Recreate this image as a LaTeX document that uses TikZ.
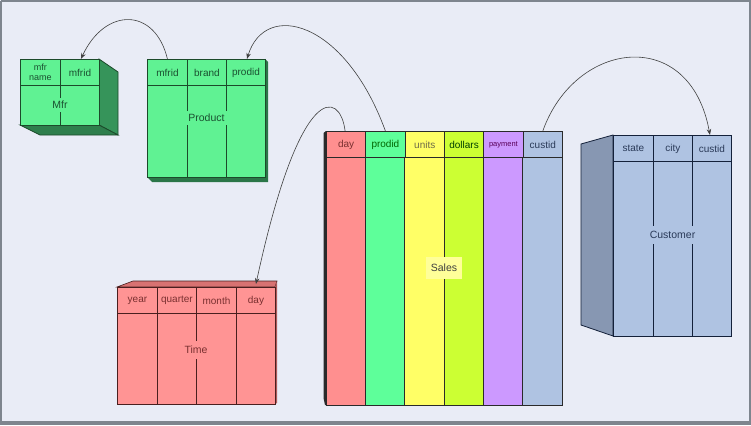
\documentclass[tikz,border=0pt]{standalone}
\usepackage{fontspec}
\setmainfont{Liberation Sans}
\usetikzlibrary{arrows.meta}
\definecolor{bg}{HTML}{E9ECF6}
\definecolor{framec}{HTML}{7E858E}
\definecolor{gfront}{HTML}{60F293}
\definecolor{gside}{HTML}{36945A}
\definecolor{gline}{HTML}{1C4A2A}
\definecolor{gtext}{HTML}{1A5030}
\definecolor{rfront}{HTML}{FF9494}
\definecolor{rside}{HTML}{D87272}
\definecolor{rline}{HTML}{4A1F1F}
\definecolor{rtext}{HTML}{7A3030}
\definecolor{bfront}{HTML}{AFC3E2}
\definecolor{bside}{HTML}{8797B2}
\definecolor{bline}{HTML}{14213A}
\definecolor{btext}{HTML}{2A3A58}
\definecolor{sday}{HTML}{FF8F8F}
\definecolor{sprod}{HTML}{5EFF9A}
\definecolor{sunits}{HTML}{FFFF66}
\definecolor{sdoll}{HTML}{CCFF33}
\definecolor{spay}{HTML}{CC99FF}
\definecolor{scust}{HTML}{AFC3E2}
\definecolor{slbl}{HTML}{FFFF99}
\definecolor{sline}{HTML}{2A2A2A}
\definecolor{arrc}{HTML}{404040}
\begin{document}
\begin{tikzpicture}[x=1pt,y=-1pt,
  cell/.style={draw, line width=0.9pt, minimum height=26pt, inner sep=0pt, anchor=north west, font=\fontsize{10}{11}\selectfont},
  lbl/.style={inner sep=3pt, font=\fontsize{10.5}{12}\selectfont},
  link/.style={draw=arrc, line width=0.6pt, -{Stealth[length=6pt,width=4.5pt]}}]
\useasboundingbox (0,0) rectangle (751,425);
\fill[bg] (0,0) rectangle (751,425);
\draw[framec, line width=2pt] (1,1) -- (750,1) -- (750,422) (1,1) -- (1,422);
\fill[framec] (0,421) rectangle (751,425);

% ---------- Mfr ----------
\fill[gside, draw=gline, line width=0.8pt] (99,59) -- (118,72) -- (118,135) -- (99,125) -- cycle;
\fill[gside!85!black, draw=gline, line width=0.8pt] (20,125) -- (99,125) -- (118,135) -- (40,135) -- cycle;
\draw[fill=gfront, draw=gline, line width=0.9pt] (20,85) rectangle (99,125);
\draw[gline, line width=0.9pt] (60,85) -- (60,125);
\node[cell, fill=gfront, draw=gline, text=gtext, minimum width=40pt, align=center, font=\fontsize{9}{9.5}\selectfont] (mname) at (20,59) {mfr\\name};
\node[cell, fill=gfront, draw=gline, text=gtext, minimum width=39pt] (mmfrid) at (60,59) {mfrid};
\node[lbl, fill=gfront, text=gtext] (mlbl) at (60,105) {Mfr};

% ---------- Product ----------
\fill[gside!80!black] (147,177) -- (152,182) -- (268,182) -- (268,62) -- (265,59) -- (265,177) -- cycle;
\draw[fill=gfront, draw=gline, line width=0.9pt] (147,85) rectangle (265,177);
\draw[gline, line width=0.9pt] (187,85) -- (187,177) (226,85) -- (226,177);
\node[cell, fill=gfront, draw=gline, text=gtext, minimum width=40pt] (pmfrid) at (147,59) {mfrid};
\node[cell, fill=gfront, draw=gline, text=gtext, minimum width=39pt] (pbrand) at (187,59) {brand};
\node[cell, fill=gfront, draw=gline, text=gtext, minimum width=39pt] (pprodid) at (226,59) {prodid};
\node[lbl, fill=gfront, text=gtext] (plbl) at (206.5,118) {Product};

% ---------- Sales ----------
\fill[sline] (323.5,133) -- (326,131) -- (326,405) -- (325,405) -- (323.5,398) -- cycle;
\foreach \xa/\xb/\c in {326/365.3/sday, 365.3/404.7/sprod, 404.7/444/sunits, 444/483.3/sdoll, 483.3/522.7/spay, 522.7/562/scust}{
  \draw[fill=\c, draw=sline, line width=0.8pt] (\xa,157) rectangle (\xb,405);
}
\node[cell, fill=sday, draw=sline, text=rtext, minimum width=39.3pt] (sdayc) at (326,131) {day};
\node[cell, fill=sprod, draw=sline, text={green!40!black}, minimum width=39.3pt] (sprodid) at (365.3,131) {prodid};
\node[cell, fill=sunits, draw=sline, text={yellow!35!black}, minimum width=39.3pt] (sunitsc) at (404.7,131) {units};
\node[cell, fill=sdoll, draw=sline, text={green!25!black}, minimum width=39.3pt] (sdollars) at (444,131) {dollars};
\node[cell, fill=spay, draw=sline, text={violet!70!black}, minimum width=39.3pt, font=\fontsize{7.5}{8}\selectfont] (spayment) at (483.3,131) {payment};
\node[cell, fill=scust, draw=sline, text=btext, minimum width=39.3pt] (scustid) at (522.7,131) {custid};
\node[lbl, fill=slbl, text={black!75}, inner xsep=5pt, inner ysep=7pt] (slblnode) at (444,268) {Sales};

% ---------- Customer ----------
\draw[fill=bside, draw=bline, line width=0.8pt] (613,135) -- (581,144) -- (581,325) -- (613,336) -- cycle;
\draw[fill=bfront, draw=bline, line width=0.9pt] (613,161) rectangle (731,336);
\draw[bline, line width=0.9pt] (653,161) -- (653,336) (692,161) -- (692,336);
\node[cell, fill=bfront, draw=bline, text=btext, minimum width=40pt] (cstate) at (613,135) {state};
\node[cell, fill=bfront, draw=bline, text=btext, minimum width=39pt] (ccity) at (653,135) {city};
\node[cell, fill=bfront, draw=bline, text=btext, minimum width=39pt] (ccustid) at (692,135) {custid};
\node[lbl, fill=bfront, text=btext, inner ysep=5pt] (clbl) at (672.5,235) {Customer};

% ---------- Time ----------
\fill[rside, draw=rline, line width=0.6pt] (117,287) -- (133,281) -- (277,281) -- (275,287) -- cycle;
\fill[rside!80!black] (275,287) -- (277,281) -- (277,403) -- (275,404) -- cycle;
\draw[fill=rfront, draw=rline, line width=0.9pt] (117,313) rectangle (275,404);
\draw[rline, line width=0.9pt] (157,313) -- (157,404) (196,313) -- (196,404) (236,313) -- (236,404);
\node[cell, fill=rfront, draw=rline, text=rtext, minimum width=40pt] (tyear) at (117,287) {year};
\node[cell, fill=rfront, draw=rline, text=rtext, minimum width=39pt] (tquarter) at (157,287) {quarter};
\node[cell, fill=rfront, draw=rline, text=rtext, minimum width=40pt] (tmonth) at (196,287) {month};
\node[cell, fill=rfront, draw=rline, text=rtext, minimum width=39pt] (tday) at (236,287) {day};
\node[lbl, fill=rfront, text=rtext, inner ysep=5pt] (tlbl) at (196,350) {Time};

% ---------- connectors ----------
\draw[link] (pmfrid.north) .. controls (155,7) and (105,7) .. ([xshift=1pt]mmfrid.north);
\draw[link] (sprodid.north) .. controls (345,20) and (265,0) .. ([xshift=1pt]pprodid.north);
\draw[link] ([xshift=-1pt]sdayc.north) .. controls (340,90) and (300,80) .. ([yshift=3pt]tday.north);
\draw[link] (scustid.north) .. controls (575,40) and (690,25) .. ([xshift=-2pt]ccustid.north);
\end{tikzpicture}
\end{document}
